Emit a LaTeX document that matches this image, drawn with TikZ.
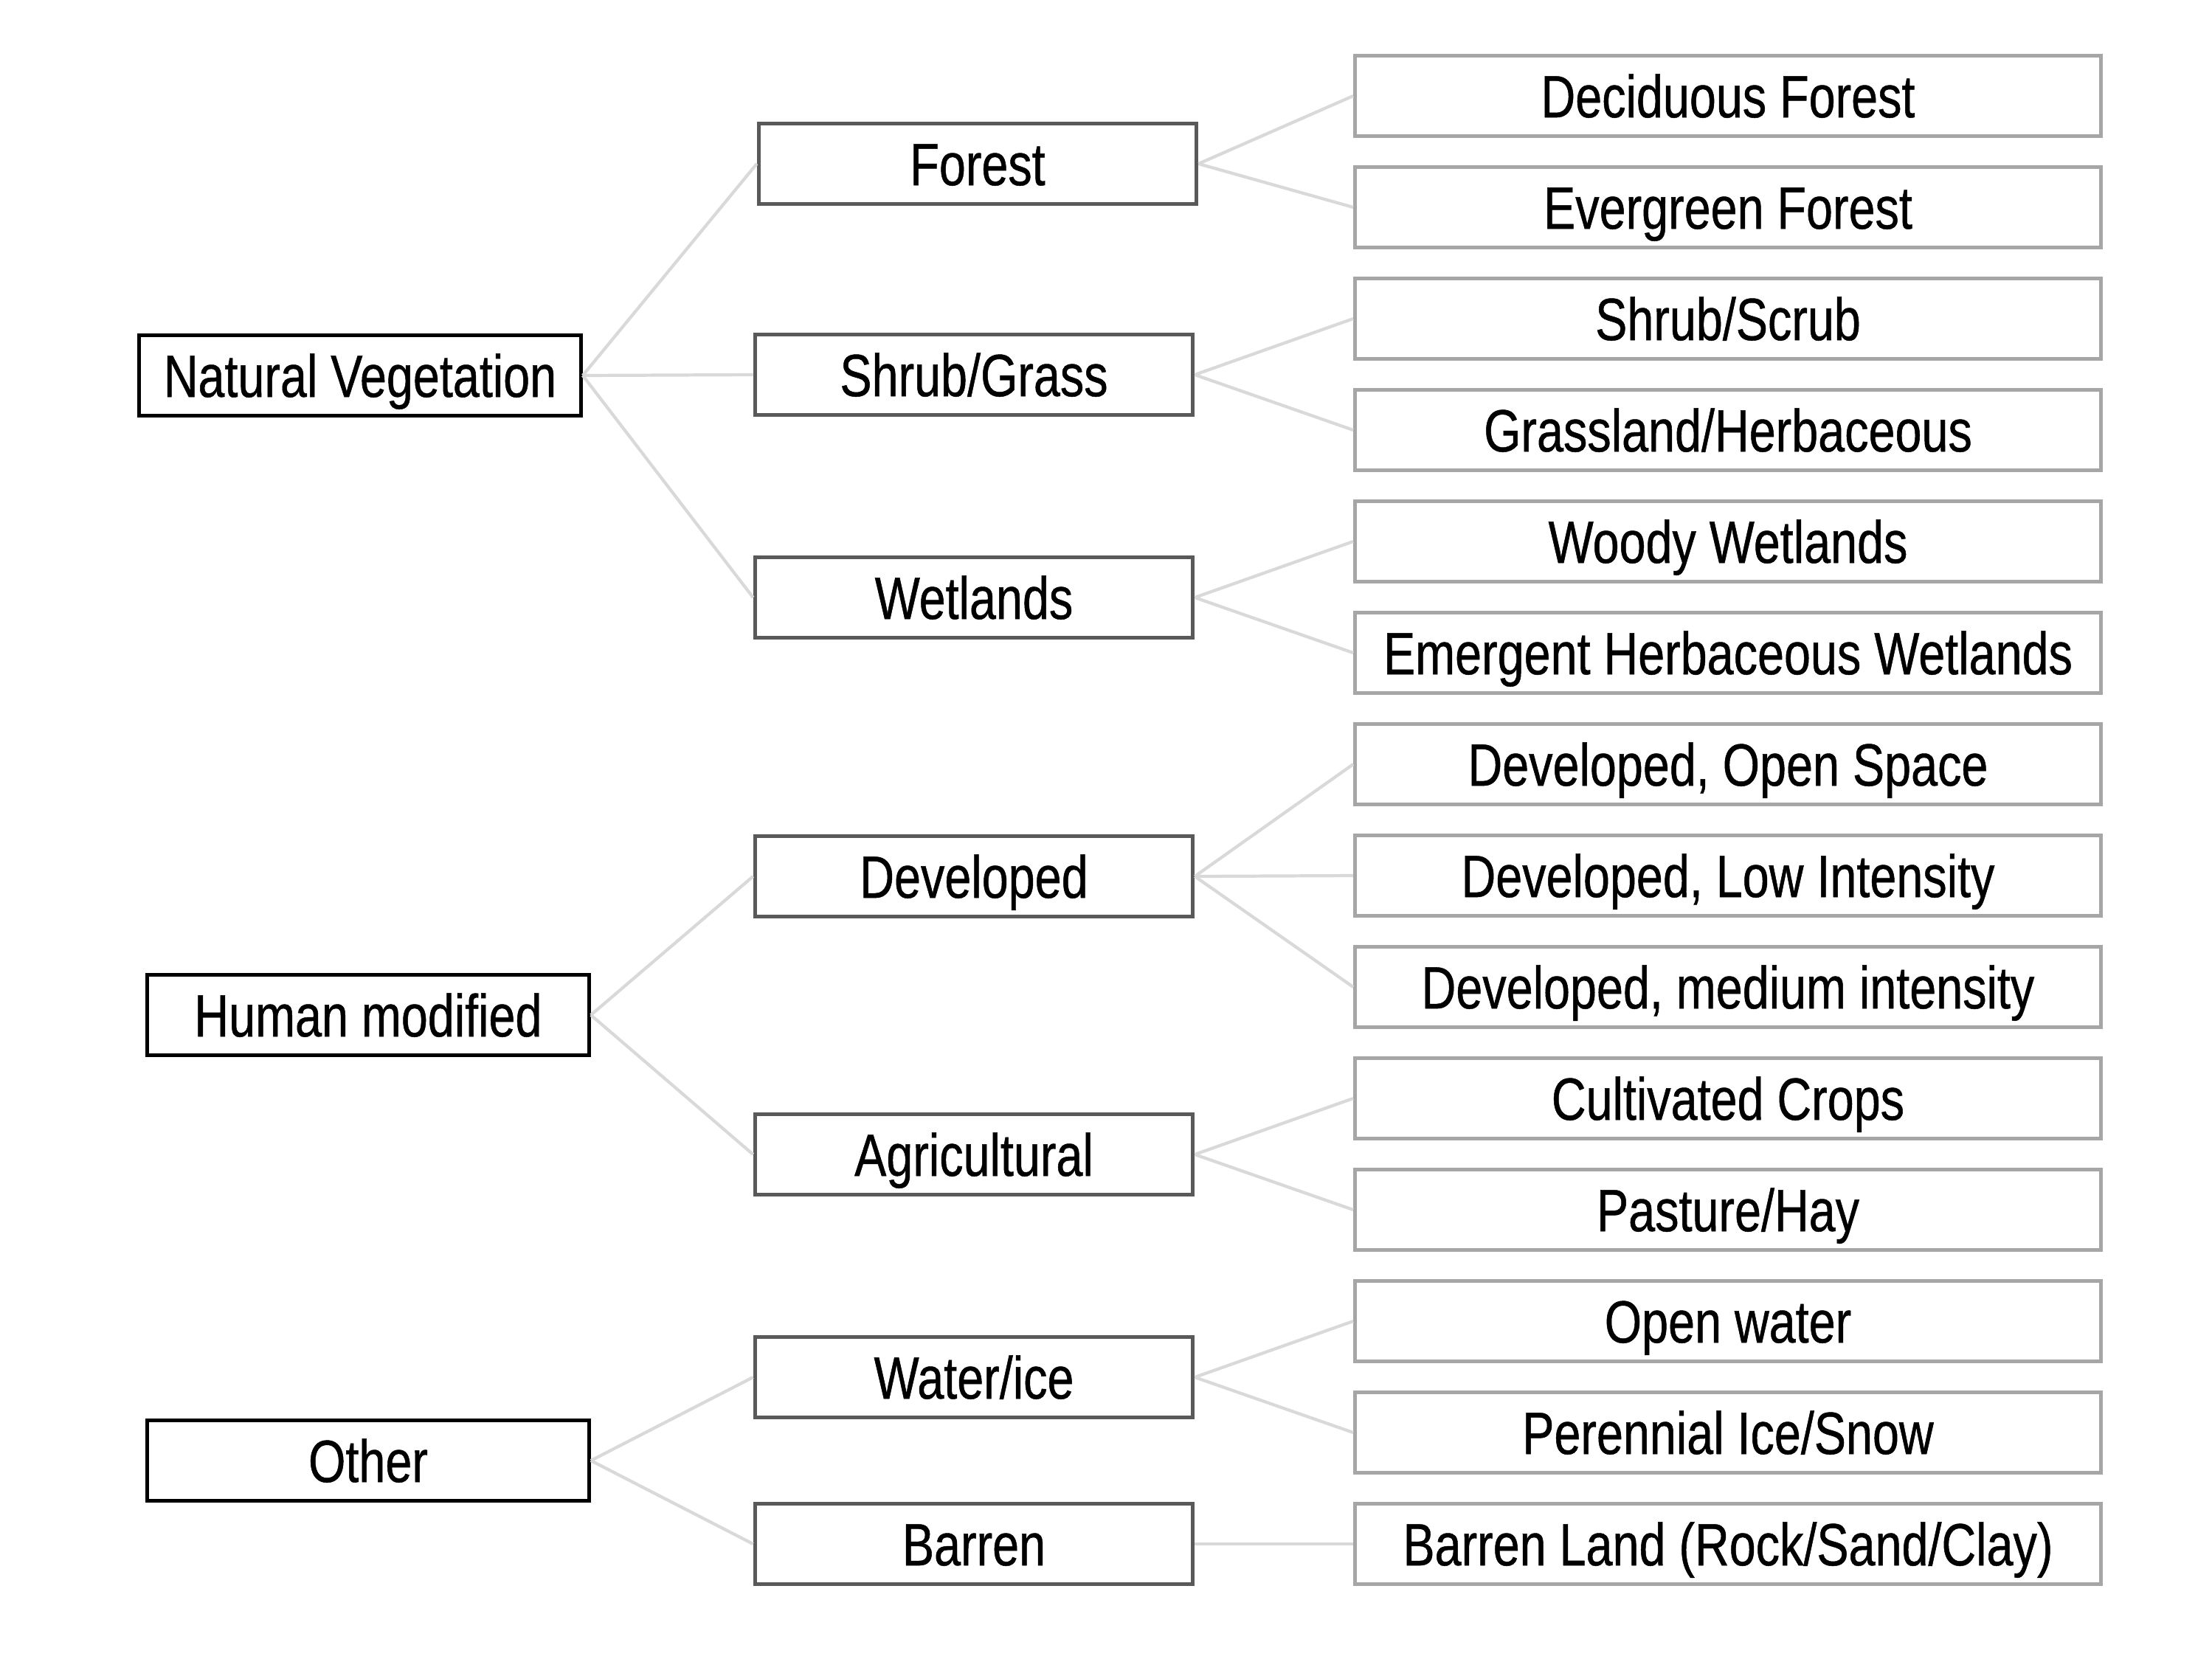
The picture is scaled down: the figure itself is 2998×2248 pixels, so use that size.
\documentclass[tikz,border=0pt]{standalone}
\usepackage{fontspec}
\setmainfont{Liberation Sans}[FakeStretch=0.8, FakeBold=0.6]
\usetikzlibrary{positioning}
\definecolor{ctop}{HTML}{000000}
\definecolor{cmid}{HTML}{595959}
\definecolor{cleaf}{HTML}{A6A6A6}
\definecolor{clink}{HTML}{D9D9D9}
\tikzset{
  every picture/.style={font=\fontsize{23}{27}\selectfont, line width=1.5pt},
  box/.style={draw=#1, fill=white, minimum height=1.09cm, inner sep=0pt, anchor=center,
    text height=16.5pt, text depth=0pt},
  topbox/.style={box=ctop, minimum width=5.98cm},
  midbox/.style={box=cmid, minimum width=5.93cm},
  leafbox/.style={box=cleaf, minimum width=10.1cm},
  link/.style={draw=clink, line width=1.2pt},
}

\begin{document}
\begin{tikzpicture}[x=0.01cm, y=-0.01cm]
  \useasboundingbox (0,0) rectangle (2998,2248);
  % top level
  \node[topbox] (nat) at (488,509) {Natural Vegetation};
  \node[topbox] (hum) at (499,1376) {Human modified};
  \node[topbox] (oth) at (499,1980) {Other};
  % middle level
  \node[midbox] (forest) at (1325,222) {Forest};
  \node[midbox] (shrub) at (1320,508) {Shrub/Grass};
  \node[midbox] (wet) at (1320,810) {Wetlands};
  \node[midbox] (dev) at (1320,1188) {Developed};
  \node[midbox] (agri) at (1320,1565) {Agricultural};
  \node[midbox] (water) at (1320,1867) {Water/ice};
  \node[midbox] (barren) at (1320,2093) {Barren};
  % leaves, one row each
  \foreach \n/\t [count=\i from 0] in {decid/{Deciduous Forest}, everg/{Evergreen Forest},
      scrub/{Shrub/Scrub}, grass/{Grassland/Herbaceous}, woody/{Woody Wetlands},
      emerg/{Emergent Herbaceous Wetlands}, devopen/{Developed, Open Space},
      devlow/{Developed, Low Intensity}, devmed/{Developed, medium intensity},
      crops/{Cultivated Crops}, pasture/{Pasture/Hay}, open/{Open water},
      ice/{Perennial Ice/Snow}, land/{Barren Land (Rock/Sand/Clay)}}
    \node[leafbox] (\n) at (2342,130+151*\i) {\t};
  % connectors
  \foreach \a/\b in {nat/forest, nat/shrub, nat/wet, hum/dev, hum/agri, oth/water, oth/barren,
      forest/decid, forest/everg, shrub/scrub, shrub/grass, wet/woody, wet/emerg,
      dev/devopen, dev/devlow, dev/devmed, agri/crops, agri/pasture,
      water/open, water/ice, barren/land}
    \draw[link] (\a.east) -- (\b.west);
\end{tikzpicture}
\end{document}
